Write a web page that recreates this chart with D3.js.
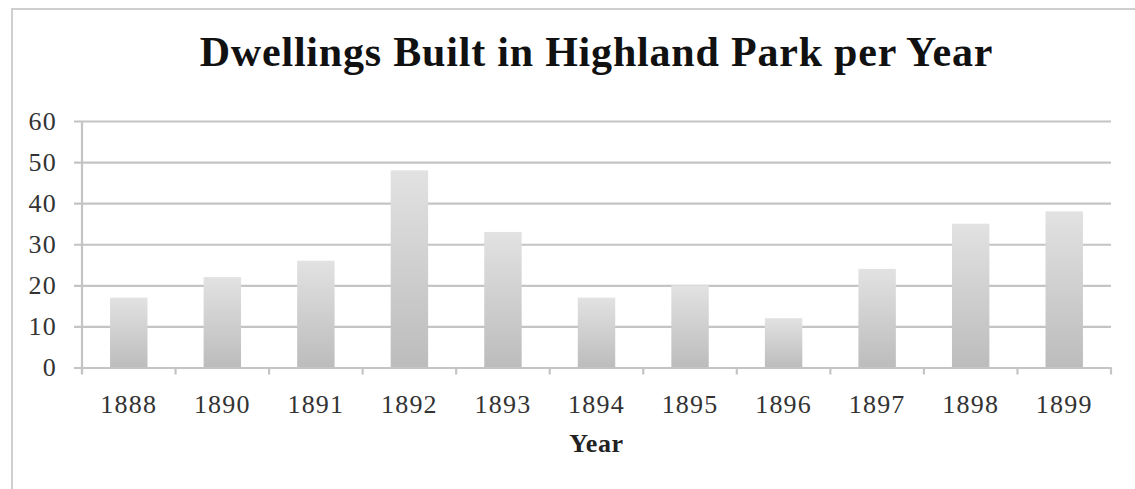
<!DOCTYPE html>
<html>
<head>
<meta charset="utf-8">
<script src="https://cdn.jsdelivr.net/npm/d3@7/dist/d3.min.js"></script>
<style>
  html, body { margin: 0; padding: 0; background: #fff; }
  svg { display: block; }
</style>
</head>
<body>
<svg id="chart" width="1135" height="489"></svg>
<script>
const categories = ["1888", "1890", "1891", "1892", "1893", "1894", "1895", "1896", "1897", "1898", "1899"];
const values = [17, 22, 26, 48, 33, 17, 20, 12, 24, 35, 38];
const yTicks = [0, 10, 20, 30, 40, 50, 60];
const titleText = "Dwellings Built in Highland Park per Year";
const xTitle = "Year";

(function () {
const svg = d3.select("#chart");
const W = 1135, H = 489;
const pL = 82, pR = 1111, pT = 121, pB = 367.5;
const gridColor = "#c4c4c4";
const font = "'Liberation Serif', 'Times New Roman', serif";

const defs = svg.append("defs");
const grad = defs.append("linearGradient").attr("id", "barGrad")
  .attr("x1", 0).attr("y1", 0).attr("x2", 0).attr("y2", 1);
grad.append("stop").attr("offset", "0%").attr("stop-color", "#e2e2e2");
grad.append("stop").attr("offset", "100%").attr("stop-color", "#bcbcbc");
const blur = defs.append("filter").attr("id", "soft").attr("x", "-10%").attr("y", "-10%").attr("width", "120%").attr("height", "120%");
blur.append("feGaussianBlur").attr("stdDeviation", 0.7);

// frame
svg.append("path")
  .attr("d", `M12,${H} L12,9 L${W},9`)
  .attr("fill", "none").attr("stroke", "#cfcfcf").attr("stroke-width", 2);

const x = d3.scaleBand().domain(categories).range([pL, pR]).padding(0);
const y = d3.scaleLinear().domain([0, 60]).range([pB, pT]);

// gridlines + y axis
const yAxis = d3.axisLeft(y).tickValues(yTicks).tickSize(-(pR - pL)).tickPadding(17).tickSizeOuter(0);
const yg = svg.append("g").attr("transform", `translate(${pL},0)`).call(yAxis);
yg.select(".domain").remove();
yg.selectAll(".tick line").attr("stroke", gridColor).attr("stroke-width", 2.2).attr("x1", -8);
yg.selectAll(".tick text")
  .attr("font-family", font).attr("font-size", 26).attr("letter-spacing", 1.2)
  .attr("fill", "#333").attr("x", -25);

// bars
const bw = x.step() * 0.4;
svg.append("g").selectAll("rect").data(values).join("rect")
  .attr("x", (d, i) => x(categories[i]) + x.bandwidth() / 2 - bw / 2)
  .attr("y", d => y(d))
  .attr("width", bw)
  .attr("height", d => y(0) - y(d))
  .attr("fill", "url(#barGrad)")
  .attr("filter", "url(#soft)");

// y axis line
svg.append("line").attr("x1", pL).attr("x2", pL).attr("y1", pT).attr("y2", pB + 6)
  .attr("stroke", gridColor).attr("stroke-width", 2.2);

// x axis
const xAxis = d3.axisBottom(x).tickSize(0).tickPadding(27);
const xg = svg.append("g").attr("transform", `translate(0,${pB})`).call(xAxis);
xg.select(".domain").attr("stroke", gridColor).attr("stroke-width", 2.2);
xg.selectAll(".tick text").attr("font-family", font).attr("font-size", 26)
  .attr("letter-spacing", 1.2).attr("fill", "#333");
// category boundary ticks
const bounds = categories.map(c => x(c)).concat([pR]);
svg.append("g").selectAll("line").data(bounds).join("line")
  .attr("x1", d => d).attr("x2", d => d).attr("y1", pB).attr("y2", pB + 7)
  .attr("stroke", gridColor).attr("stroke-width", 2.2);

// title
svg.append("text").attr("x", (pL + pR) / 2).attr("y", 66)
  .attr("text-anchor", "middle").attr("font-family", font).attr("font-weight", "bold")
  .attr("font-size", 42).attr("letter-spacing", 0.8).attr("fill", "#111").text(titleText);

// x title
svg.append("text").attr("x", (pL + pR) / 2).attr("y", 452)
  .attr("text-anchor", "middle").attr("font-family", font).attr("font-weight", "bold")
  .attr("font-size", 26).attr("letter-spacing", 0.6).attr("fill", "#222").text(xTitle);
})();
</script>
</body>
</html>
